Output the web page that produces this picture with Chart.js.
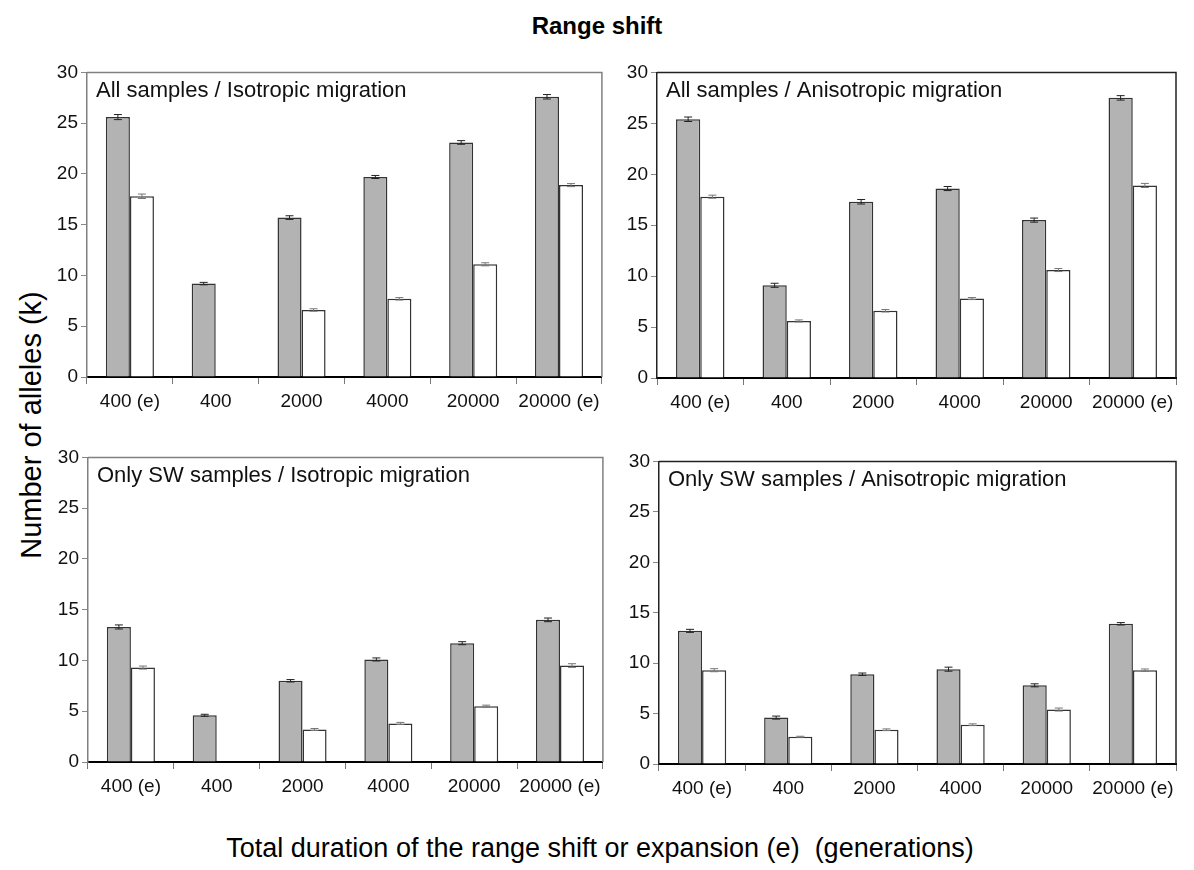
<!DOCTYPE html>
<html>
<head>
<meta charset="utf-8">
<script src="https://cdn.jsdelivr.net/npm/chart.js@4/dist/chart.umd.min.js"></script>
<style>
  body { margin: 0; background: #fff; }
  #page { position: relative; width: 1194px; height: 870px; overflow: hidden; background: #fff; }
  canvas { position: absolute; }
  .lbl { position: absolute; white-space: nowrap; color: #000; }
  #title { left: 0; width: 1194px; top: 12px; text-align: center; font: bold 24px "Liberation Sans Narrow", "Liberation Sans", sans-serif; }
  #ytitle { left: 31px; top: 425px; transform: translate(-50%, -50%) rotate(-90deg); font: 29px "Liberation Sans", Arial, sans-serif; }
  #xtitle { left: 600px; top: 848px; transform: translate(-50%, -50%); font: 27px "Liberation Sans", Arial, sans-serif; }
</style>
</head>
<body>
<div id="page">
  <div class="lbl" id="title">Range shift</div>
  <div class="lbl" id="ytitle">Number of alleles (k)</div>
  <div class="lbl" id="xtitle">Total duration of the range shift or expansion (e)&nbsp; (generations)</div>
  <canvas id="c1" width="569" height="364" style="left:37px;top:58px"></canvas>
  <canvas id="c2" width="573" height="365" style="left:607px;top:58px"></canvas>
  <canvas id="c3" width="569" height="364" style="left:38px;top:443px"></canvas>
  <canvas id="c4" width="571" height="362" style="left:609px;top:447px"></canvas>
</div>
<script>
// categories (total duration, e = expansion)
var categories = ['400 (e)', '400', '2000', '4000', '20000', '20000 (e)'];

// all samples / isotropic
var allIsoGray = [25.6, 9.2, 15.7, 19.7, 23.1, 27.6];
var allIsoGrayErr = [0.25, 0.12, 0.18, 0.15, 0.18, 0.22];
var allIsoWhite = [17.8, null, 6.6, 7.7, 11.1, 18.9];
var allIsoWhiteErr = [0.22, 0, 0.12, 0.12, 0.15, 0.15];

// all samples / anisotropic
var allAniGray = [25.4, 9.1, 17.3, 18.6, 15.5, 27.5];
var allAniGrayErr = [0.22, 0.2, 0.22, 0.2, 0.2, 0.22];
var allAniWhite = [17.8, 5.6, 6.6, 7.8, 10.6, 18.9];
var allAniWhiteErr = [0.15, 0.1, 0.12, 0.1, 0.15, 0.2];

// only SW samples / isotropic
var swIsoGray = [13.3, 4.6, 8.0, 10.1, 11.7, 14.0];
var swIsoGrayErr = [0.2, 0.1, 0.12, 0.15, 0.15, 0.18];
var swIsoWhite = [9.3, null, 3.2, 3.8, 5.5, 9.5];
var swIsoWhiteErr = [0.15, 0, 0.1, 0.1, 0.1, 0.18];

// only SW samples / anisotropic
var swAniGray = [13.2, 4.6, 8.9, 9.4, 7.8, 13.9];
var swAniGrayErr = [0.15, 0.15, 0.12, 0.2, 0.15, 0.12];
var swAniWhite = [9.3, 2.7, 3.4, 3.9, 5.4, 9.3];
var swAniWhiteErr = [0.15, 0.05, 0.08, 0.08, 0.15, 0.12];

var yTicks = [0, 5, 10, 15, 20, 25, 30];

var tickFont = { family: '"Liberation Sans Narrow", "Liberation Sans", sans-serif', size: 19 };

//draws the error bars on top of each bar
var errorBars = {
    id: 'errorBars',
    afterDatasetsDraw: function(chart) {
        var ctx = chart.ctx;
        var y = chart.scales.y;
        chart.data.datasets.forEach(function(ds, di) {
            var meta = chart.getDatasetMeta(di);
            ds.data.forEach(function(v, i) {
                if (v === null || !ds.errors[i]) return;
                var bar = meta.data[i];
                var top = y.getPixelForValue(v + ds.errors[i]);
                var bot = y.getPixelForValue(v - ds.errors[i]);
                ctx.save();
                ctx.strokeStyle = ds.errorColor;
                ctx.lineWidth = 1;
                ctx.beginPath();
                ctx.moveTo(bar.x, top); ctx.lineTo(bar.x, bot);
                ctx.moveTo(bar.x - 4, top); ctx.lineTo(bar.x + 4, top);
                ctx.moveTo(bar.x - 4, bot); ctx.lineTo(bar.x + 4, bot);
                ctx.stroke();
                ctx.restore();
            });
        });
    }
};

//box round the plot area and the panel name inside it
var panelBox = {
    id: 'panelBox',
    afterDraw: function(chart, args, opts) {
        var ctx = chart.ctx;
        var a = chart.chartArea;
        ctx.save();
        ctx.strokeStyle = opts.color;
        ctx.lineWidth = 1.5;
        ctx.beginPath();
        ctx.moveTo(a.left, a.top); ctx.lineTo(a.right, a.top); ctx.lineTo(a.right, a.bottom);
        ctx.stroke();
        ctx.fillStyle = '#111';
        ctx.font = '22px "Liberation Sans Narrow", "Liberation Sans", sans-serif';
        ctx.textBaseline = 'top';
        ctx.fillText(opts.text, a.left + 9, a.top + 8);
        ctx.restore();
    }
};

function makePanel(id, text, gray, grayErr, white, whiteErr, boxColor) {
    var ctx = document.getElementById(id).getContext('2d');
    return new Chart(ctx, {
        type: 'bar',
        data: {
            labels: categories,
            datasets: [{
                label: 'gray',
                data: gray,
                errors: grayErr,
                errorColor: '#222',
                backgroundColor: '#b3b3b3',
                borderColor: '#333',
                borderWidth: 1.5,
                categoryPercentage: 0.56,
                barPercentage: 1
            }, {
                label: 'white',
                data: white,
                errors: whiteErr,
                errorColor: '#777',
                backgroundColor: '#fff',
                borderColor: '#333',
                borderWidth: 1.5,
                categoryPercentage: 0.56,
                barPercentage: 1
            }]
        },
        options: {
            responsive: false,
            animation: false,
            devicePixelRatio: 1,
            layout: { padding: { top: 10, right: 4, left: 0, bottom: 0 } },
            plugins: {
                legend: { display: false },
                tooltip: { enabled: false },
                panelBox: { text: text, color: boxColor }
            },
            scales: {
                x: {
                    offset: true,
                    grid: { offset: true, drawOnChartArea: false, tickLength: 7, color: '#777' },
                    border: { color: '#000', width: 2 },
                    ticks: { font: tickFont, color: '#111', padding: 6, maxRotation: 0, autoSkip: false },
                    afterFit: function(s) { s.height = 45; }
                },
                y: {
                    min: 0,
                    max: 30,
                    afterBuildTicks: function(s) { s.ticks = yTicks.map(function(v) { return { value: v }; }); },
                    grid: { drawOnChartArea: false, tickLength: 6, color: '#888' },
                    border: { color: boxColor, width: 1.5 },
                    ticks: { font: tickFont, color: '#111', padding: 3 },
                    afterFit: function(s) { s.width = 50; }
                }
            }
        },
        plugins: [errorBars, panelBox]
    });
}

makePanel('c1', 'All samples / Isotropic migration', allIsoGray, allIsoGrayErr, allIsoWhite, allIsoWhiteErr, '#808080');
makePanel('c2', 'All samples / Anisotropic migration', allAniGray, allAniGrayErr, allAniWhite, allAniWhiteErr, '#222');
makePanel('c3', 'Only SW samples / Isotropic migration', swIsoGray, swIsoGrayErr, swIsoWhite, swIsoWhiteErr, '#808080');
makePanel('c4', 'Only SW samples / Anisotropic migration', swAniGray, swAniGrayErr, swAniWhite, swAniWhiteErr, '#222');
</script>
</body>
</html>
